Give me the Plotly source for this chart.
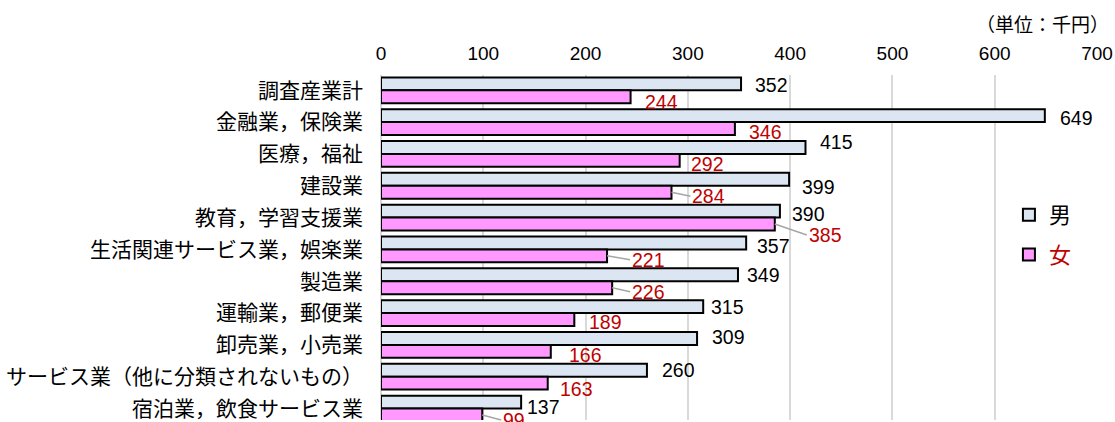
import plotly.graph_objects as go

categories = ["調査産業計", "金融業，保険業", "医療，福祉", "建設業", "教育，学習支援業",
              "生活関連サービス業，娯楽業", "製造業", "運輸業，郵便業", "卸売業，小売業",
              "サービス業（他に分類されないもの）", "宿泊業，飲食サービス業"]
male = [352, 649, 415, 399, 390, 357, 349, 315, 309, 260, 137]
female = [244, 346, 292, 284, 385, 221, 226, 189, 166, 163, 99]
x_ticks = [0, 100, 200, 300, 400, 500, 600, 700]

# label placement (pixel offsets of label left-middle from bar end), leader line flags
male_dx = [12, 13, 13, 11, 10, 9, 7, 6, 13, 13, 4]
male_dy = [1, 2, -5, 8, 3, 3, 0, 0, -1, 0, 5]
female_dx = [12, 12, 9, 19, 32, 23, 18, 13, 16, 10, 19]
female_dy = [5, 3, 4, 4, 11, 4, 4, 2, 4, 6, 5]
female_leader = [False, False, False, True, True, True, True, False, False, False, True]

MALE_FILL = "#DCE6F2"
FEMALE_FILL = "#FF99FF"
RED = "#C00000"
NUM_FONT = "Liberation Sans Narrow, Arial Narrow, Liberation Sans, sans-serif"
JP_FONT = "Noto Sans CJK JP, sans-serif"
NUM_SIZE = 19.5

fig = go.Figure()
fig.add_trace(go.Bar(y=categories, x=male, orientation="h", name="男",
                     marker=dict(color=MALE_FILL, line=dict(color="black", width=2)),
                     legendgroup="m"))
fig.add_trace(go.Bar(y=categories, x=female, orientation="h",
                     name="<span style='color:%s'>女</span>" % RED,
                     marker=dict(color=FEMALE_FILL, line=dict(color="black", width=2)),
                     legendgroup="f"))

half = (1 - 0.19) / 4
annotations = []
for i, v in enumerate(male):
    annotations.append(dict(x=v, y=i - half, xref="x", yref="y", text=str(v),
                            showarrow=False, xanchor="left", yanchor="middle",
                            xshift=male_dx[i], yshift=-male_dy[i],
                            font=dict(family=NUM_FONT, size=NUM_SIZE, color="black")))
for i, v in enumerate(female):
    if female_leader[i]:
        annotations.append(dict(x=v, y=i + half, xref="x", yref="y", text=str(v),
                                showarrow=True, arrowhead=0, arrowwidth=1.5,
                                arrowcolor="#A6A6A6", standoff=0, startstandoff=0,
                                ax=female_dx[i], ay=female_dy[i], axref="pixel", ayref="pixel",
                                xanchor="left", yanchor="middle",
                                font=dict(family=NUM_FONT, size=NUM_SIZE, color=RED)))
    else:
        annotations.append(dict(x=v, y=i + half, xref="x", yref="y", text=str(v),
                                showarrow=False, xanchor="left", yanchor="middle",
                                xshift=female_dx[i], yshift=-female_dy[i],
                                font=dict(family=NUM_FONT, size=NUM_SIZE, color=RED)))

annotations.append(dict(x=1.0, y=1.0, xref="paper", yref="paper", yshift=52,
                        text="（単位：千円）", showarrow=False, xanchor="right", yanchor="middle",
                        xshift=14, font=dict(family=JP_FONT, size=19, color="black")))

fig.update_layout(
    width=1115, height=422,
    margin=dict(l=381, r=18, t=75, b=0),
    paper_bgcolor="white", plot_bgcolor="white",
    barmode="group", bargap=0.19, bargroupgap=0,
    annotations=annotations,
    showlegend=True,
    legend=dict(x=0.877, y=0.655, xanchor="left", yanchor="top",
                traceorder="grouped", tracegroupgap=8,
                font=dict(family=JP_FONT, size=22, color="black"),
                bgcolor="rgba(0,0,0,0)"),
    xaxis=dict(side="top", range=[0, 700], tickvals=x_ticks, ticktext=[str(t) for t in x_ticks],
               showgrid=True, gridcolor="#D9D9D9", gridwidth=1.5,
               zeroline=True, zerolinecolor="#D9D9D9", zerolinewidth=1.5,
               ticks="outside", ticklen=6, tickcolor="rgba(0,0,0,0)",
               tickfont=dict(family=NUM_FONT, size=19, color="black"), fixedrange=True),
    yaxis=dict(type="category", categoryorder="array", categoryarray=categories,
               range=[10.36, -0.48], showgrid=False, zeroline=False,
               ticks="", ticklabelstandoff=17,
               tickfont=dict(family=JP_FONT, size=21, color="black"), fixedrange=True),
)

# remove the browser's default page margin so the figure fills the window exactly
fig.write_html("out.html",
               config={"displayModeBar": False},
               post_script="document.documentElement.style.overflow='hidden';"
                           "document.body.style.margin='0';document.body.style.overflow='hidden';")
